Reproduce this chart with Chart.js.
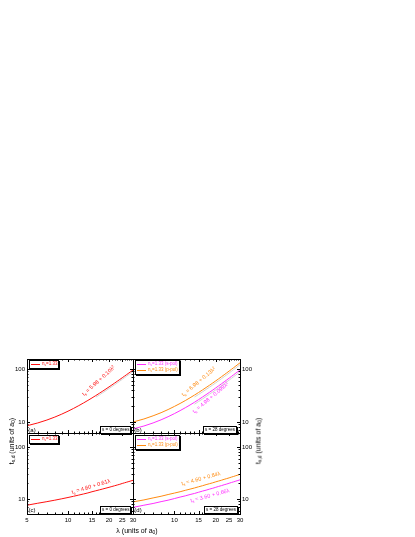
<!DOCTYPE html>
<html><head><meta charset="utf-8">
<script src="https://cdn.jsdelivr.net/npm/chart.js@4.4.1/dist/chart.umd.min.js"></script>
<style>
html,body{margin:0;padding:0;background:#fff;width:415px;height:537px;overflow:hidden;position:relative;font-family:"Liberation Sans",Arial,sans-serif;}
canvas{position:absolute;left:0;top:0;pointer-events:none;}
.t{position:absolute;white-space:nowrap;line-height:1;}
sub{font-size:.7em;vertical-align:-0.3em;line-height:0;}
sup{font-size:.7em;vertical-align:0.45em;line-height:0;}
.box{position:absolute;background:#fff;border:1px solid #000;box-shadow:1px 1px 0 #000;font-size:4.5px;line-height:1;white-space:nowrap;padding:0.5px 1px;}
.row{display:flex;align-items:center;height:6px;}
.sw{display:inline-block;width:9px;height:1px;margin-right:2px;}
</style></head><body>
<script>
// ---- data ----
const LAMBDA = [5,6,7,8,9,10,11,12,13,14,15,16,17,18,19,20,21,22,23,24,25,26,27,28,29,30];
const X_TICK_LABELS = [5,10,15,20,25,30];
const Y_TICK_LABELS = [10,100];
// panel (a): s = 0 degrees
const A_RED = [8.5,9.6,10.9,12.4,14.1,16.0,18.1,20.4,22.9,25.6,28.5,31.6,34.9,38.4,42.1,46.0,50.1,54.4,58.9,63.6,68.5,73.6,78.9,84.4,90.1,96.0];
const FIT_LAMBDA_A = [16,17,18,19,20,21,22,23,24,25,26,27,28,29,30];
const A_FIT = [29.5,32.5,35.8,39.2,42.9,46.7,50.7,54.9,59.3,63.9,68.7,73.7,78.9,84.3,89.9];
// panel (b): s = 28 degrees
const B_PPOL = [10.0,11.4,13.1,15.0,17.2,19.7,22.4,25.4,28.7,32.3,36.1,40.3,44.8,49.5,54.6,59.9,65.6,71.7,78.0,84.6,91.6,98.9,106.5,114.4,122.7,131.3];
const B_SPOL = [7.4,8.4,9.6,11.0,12.6,14.4,16.4,18.6,21.0,23.6,26.5,29.6,32.9,36.4,40.1,44.1,48.3,52.7,57.3,62.2,67.3,72.6,78.2,84.0,90.0,96.3];
const FIT_LAMBDA_B = [14,15,16,17,18,19,20,21,22,23,24,25,26,27,28,29,30];
const B_PFIT = [29.7,33.2,37.1,41.2,45.5,50.2,55.1,60.3,65.9,71.8,77.8,84.3,91.0,98.0,105.3,112.9,120.8];
const B_SFIT = [21.7,24.4,27.2,30.3,33.5,36.9,40.6,44.4,48.5,52.7,57.2,61.9,66.8,71.9,77.3,82.8,88.6];
// panel (c): s = 0 degrees
const C_RED = [7.6,8.3,8.9,9.5,10.1,10.7,11.3,11.9,12.5,13.1,13.8,14.4,15.0,15.6,16.2,16.8,17.4,18.0,18.6,19.2,19.9,20.5,21.1,21.7,22.3,22.9];
// panel (d): s = 28 degrees
const D_PPOL = [8.8,9.6,10.5,11.3,12.2,13.0,13.8,14.7,15.5,16.3,17.2,18.0,18.9,19.7,20.5,21.4,22.2,23.0,23.9,24.7,25.5,26.4,27.2,28.1,28.9,29.8];
const D_SPOL = [6.9,7.6,8.2,8.9,9.5,10.2,10.9,11.5,12.2,12.8,13.5,14.2,14.8,15.5,16.1,16.8,17.5,18.1,18.8,19.4,20.1,20.8,21.4,22.1,22.7,23.4];

const RED='#ff1010', ORANGE='#ff8a10', MAGENTA='#ff30ff', FITC='#d4d4d4';
const FONT='"Liberation Sans", Arial, sans-serif';
const W=415,H=537, YW=20, XH=12;

function pts(v,xs){xs=xs||LAMBDA;return v.map((y,i)=>({x:xs[i],y:y}));}
function logTicks(min,max){const out=[];for(let d=1;d<=1000;d*=10){for(let m=1;m<10;m++){const v=m*d;if(v>=min&&v<=max)out.push(v);}}return out;}

const frame={id:'frame',afterDatasetsDraw(chart){
  const {ctx,chartArea:a,scales:{x,y}}=chart;
  ctx.save();ctx.strokeStyle='#000';ctx.lineWidth=1;ctx.beginPath();
  const L=Math.round(a.left),R=Math.round(a.right),T=Math.round(a.top),B=Math.round(a.bottom);
  x.ticks.forEach(t=>{const px=Math.round(x.getPixelForValue(t.value))+0.5;const l=X_TICK_LABELS.includes(t.value)?3:1.5;
    ctx.moveTo(px,B);ctx.lineTo(px,B-l);ctx.moveTo(px,T);ctx.lineTo(px,T+l);});
  y.ticks.forEach(t=>{const py=Math.round(y.getPixelForValue(t.value))+0.5;const l=Y_TICK_LABELS.includes(t.value)?3:1.5;
    ctx.moveTo(L,py);ctx.lineTo(L+l,py);ctx.moveTo(R,py);ctx.lineTo(R-l,py);});
  ctx.stroke();
  ctx.strokeRect(L+0.5,T+0.5,R-L,B-T);
  ctx.restore();
}};

function panel(p){
  const c=document.createElement('canvas');c.width=W;c.height=H;c.style.width=W+'px';c.style.height=H+'px';
  document.body.appendChild(c);
  const xh=p.xl?XH:0;
  const pad={top:p.t,bottom:H-p.b-xh,left:p.ypos==='left'?p.l-YW:p.l,right:p.ypos==='right'?W-p.r-YW:W-p.r};
  new Chart(c,{type:'line',
    data:{datasets:p.sets.map(s=>({data:pts(s.v,s.x),borderColor:s.c,borderWidth:1,pointRadius:0,tension:0,fill:false}))},
    options:{responsive:false,animation:false,devicePixelRatio:1,events:[],
      layout:{padding:pad},
      plugins:{legend:{display:false},tooltip:{enabled:false}},
      scales:{
        x:{type:'logarithmic',min:5,max:30,position:'bottom',
          afterFit:s=>{s.height=xh;},
          afterBuildTicks:s=>{s.ticks=LAMBDA.map(v=>({value:v}));},
          grid:{display:false,drawTicks:false},border:{display:false},
          ticks:{display:p.xl,autoSkip:false,maxRotation:0,minRotation:0,padding:3,color:'#000',font:{size:6,family:FONT},
            callback:v=>(X_TICK_LABELS.includes(v)&&!(p.skip5&&v===5))?String(v):''}},
        y:{type:'logarithmic',min:p.ymin,max:p.ymax,position:p.ypos,
          afterFit:s=>{s.width=YW;},
          afterBuildTicks:s=>{s.ticks=logTicks(p.ymin,p.ymax).map(v=>({value:v}));},
          grid:{display:false,drawTicks:false},border:{display:false},
          ticks:{display:true,autoSkip:false,padding:2,color:'#000',font:{size:6,family:FONT},
            callback:v=>Y_TICK_LABELS.includes(v)?String(v):''}}
      }},
    plugins:[frame]});
}

panel({l:27,r:133,t:359,b:433,ymin:6.2,ymax:155,ypos:'left',xl:false,
  sets:[{v:A_FIT,x:FIT_LAMBDA_A,c:FITC},{v:A_RED,c:RED}]});
panel({l:133,r:240,t:359,b:433,ymin:6.2,ymax:155,ypos:'right',xl:false,
  sets:[{v:B_SFIT,x:FIT_LAMBDA_B,c:FITC},{v:B_PFIT,x:FIT_LAMBDA_B,c:FITC},{v:B_SPOL,c:MAGENTA},{v:B_PPOL,c:ORANGE}]});
panel({l:27,r:133,t:433,b:514,ymin:5.15,ymax:186,ypos:'left',xl:true,sets:[{v:C_RED,c:RED}]});
panel({l:133,r:240,t:433,b:514,ymin:5.15,ymax:186,ypos:'right',xl:true,skip5:true,sets:[{v:D_SPOL,c:MAGENTA},{v:D_PPOL,c:ORANGE}]});

function txt(html,x,y,size,color,rot){
  const d=document.createElement('div');d.className='t';d.innerHTML=html;
  d.style.left=x+'px';d.style.top=y+'px';d.style.fontSize=size+'px';d.style.color=color||'#000';
  d.style.transform='translate(-50%,-50%) rotate('+(rot||0)+'deg)';
  document.body.appendChild(d);return d;
}
function box(html,x,y){
  const d=document.createElement('div');d.className='box';d.innerHTML=html;d.style.left=x+'px';d.style.top=y+'px';
  document.body.appendChild(d);return d;
}
function legRow(color,label){return '<div class="row"><span class="sw" style="background:'+color+'"></span><span style="color:'+color+'">'+label+'</span></div>';}

// axis titles
txt('t<sub>s,d</sub> (units of a<sub>0</sub>)',11,441,7,'#000',-90);
txt('t<sub>s,d</sub> (units of a<sub>0</sub>)',258,441,7,'#000',-90);
txt('λ (units of a<sub>0</sub>)',137,530,7,'#000',0);

// panel labels
txt('(a)',32,430,6);txt('(b)',138,430,6);txt('(c)',32,510,6);txt('(d)',138,510,6);

// legends
box(legRow(RED,'n<sub>s</sub>=1.33'),29,360);
box(legRow(MAGENTA,'n<sub>s</sub>=1.33 (s-pol)')+legRow(ORANGE,'n<sub>s</sub>=1.33 (p-pol)'),135,360);
box(legRow(RED,'n<sub>s</sub>=1.33'),29,435);
box(legRow(MAGENTA,'n<sub>s</sub>=1.33 (s-pol)')+legRow(ORANGE,'n<sub>s</sub>=1.33 (p-pol)'),135,435);

// angle boxes
box('s = 0 degrees',100,426);
box('s = 28 degrees',203,426);
box('s = 0 degrees',100,506);
box('s = 28 degrees',204,506);

// fit annotations
txt('t<sub>s</sub> = 5.98 + 0.10λ<sup>2</sup>',99,381,5.5,RED,-42);
txt('t<sub>s</sub> = 6.98 + 0.13λ<sup>2</sup>',199,382,5.5,ORANGE,-40);
txt('t<sub>s</sub> = 4.98 + 0.099λ<sup>2</sup>',211,398,5.5,MAGENTA,-40);
txt('t<sub>s</sub> = 4.60 + 0.61λ',91,487,5.5,RED,-17);
txt('t<sub>s</sub> = 4.60 + 0.84λ',201,479,5.5,ORANGE,-15);
txt('t<sub>s</sub> = 3.60 + 0.66λ',210,496,5.5,MAGENTA,-15);
</script>
</body></html>
